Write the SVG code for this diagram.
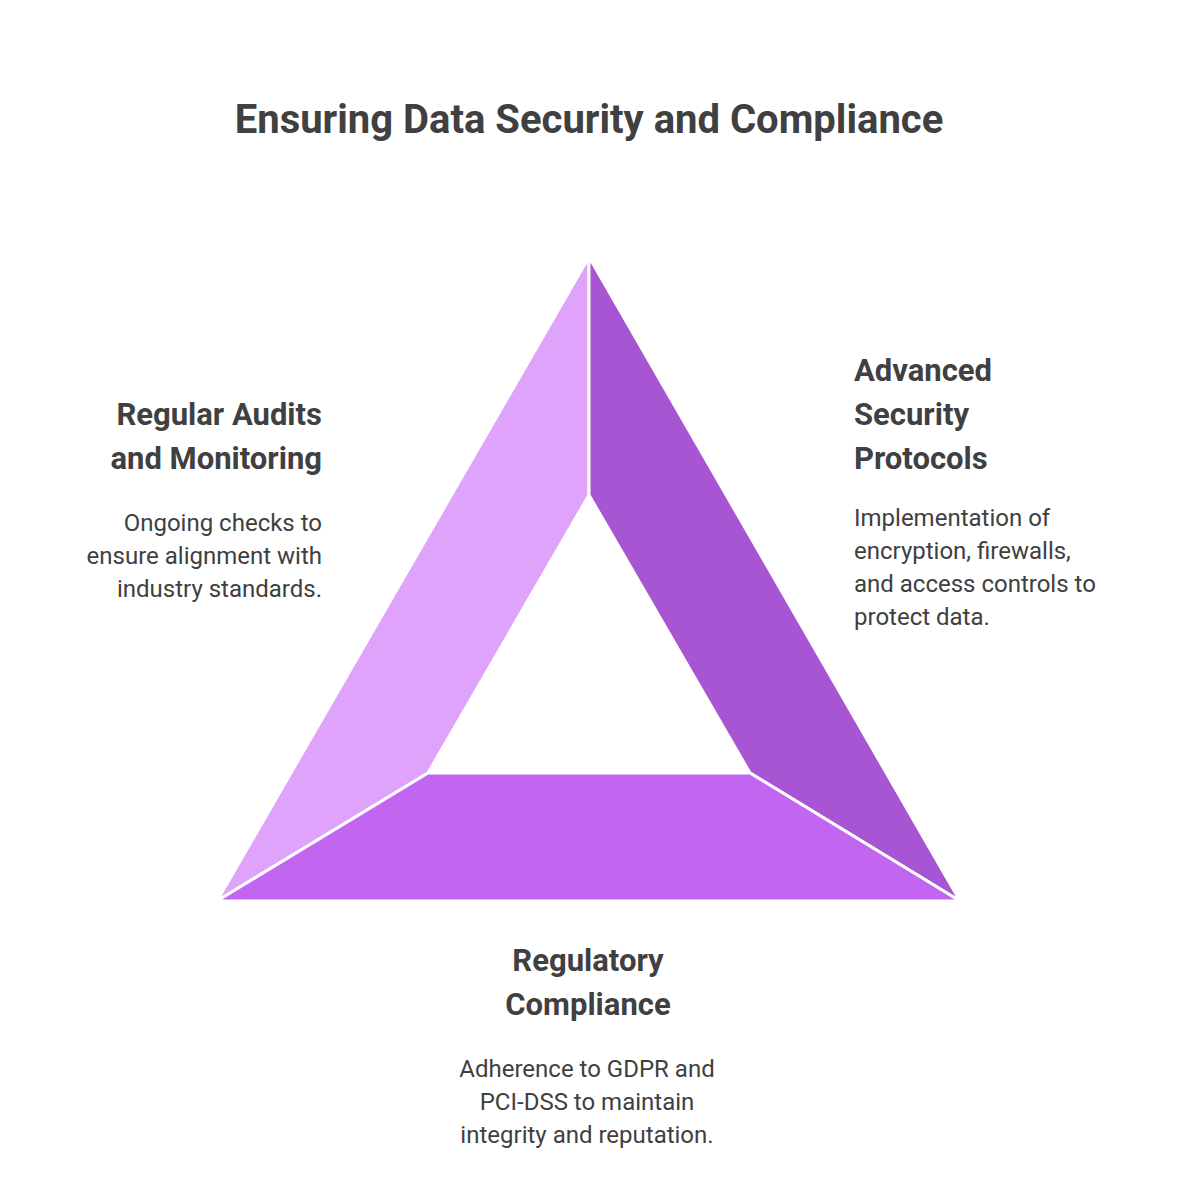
<svg xmlns="http://www.w3.org/2000/svg" width="1200" height="1200" viewBox="0 0 1200 1200">
<style>
.t{font-family:Roboto,"Liberation Sans",sans-serif;fill:#404040}
.ti{font-size:40px;font-weight:700}
.h{font-size:31px;font-weight:700}
.b{font-size:24px}
.seg{stroke:#fff;stroke-width:3;stroke-linejoin:round}
</style>
<rect width="1200" height="1200" fill="#fff"/>
<text class="t ti" x="589" y="133" text-anchor="middle">Ensuring Data Security and Compliance</text>
<g id="left"><path class="seg" fill="#DFA3FC" d="M589,257 L589,495 L428,773 L217,901 Z"/></g>
<g id="right"><path class="seg" fill="#A855D4" d="M589,257 L960,901 L750,773 L589,495 Z"/></g>
<g id="bottom"><path class="seg" fill="#C266F2" d="M217,901 L960,901 L750,773 L428,773 Z"/></g>
<g id="audits" text-anchor="end">
<text class="t h" x="322" y="425">Regular Audits</text>
<text class="t h" x="322" y="469">and Monitoring</text>
<text class="t b" x="322" y="531">Ongoing checks to</text>
<text class="t b" x="322" y="564">ensure alignment with</text>
<text class="t b" x="322" y="597">industry standards.</text>
</g>
<g id="protocols">
<text class="t h" x="854" y="381">Advanced</text>
<text class="t h" x="854" y="425">Security</text>
<text class="t h" x="854" y="469">Protocols</text>
<text class="t b" x="854" y="526">Implementation of</text>
<text class="t b" x="854" y="559">encryption, firewalls,</text>
<text class="t b" x="854" y="592">and access controls to</text>
<text class="t b" x="854" y="625">protect data.</text>
</g>
<g id="compliance" text-anchor="middle">
<text class="t h" x="588" y="971">Regulatory</text>
<text class="t h" x="588" y="1015">Compliance</text>
<text class="t b" x="587" y="1077">Adherence to GDPR and</text>
<text class="t b" x="587" y="1110">PCI-DSS to maintain</text>
<text class="t b" x="587" y="1143">integrity and reputation.</text>
</g>
<g id="connectors"/>
</svg>
